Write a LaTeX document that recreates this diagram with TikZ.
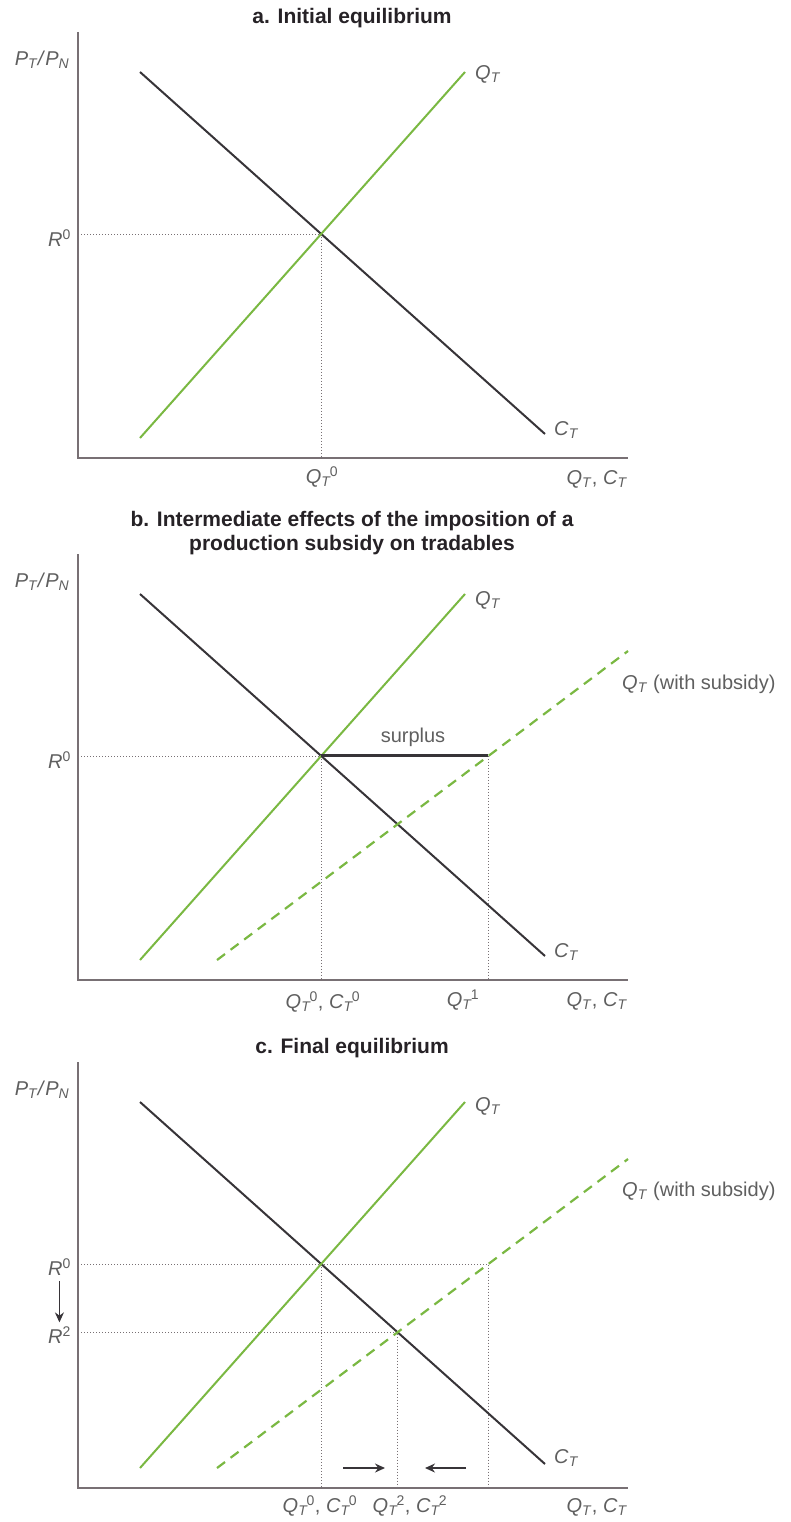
\documentclass[tikz,border=0pt]{standalone}
\usepackage{fontspec}
\setmainfont{Liberation Sans}
\usepackage{xcolor}
\usetikzlibrary{arrows.meta, positioning, calc}
\definecolor{supplygreen}{RGB}{122, 184, 66}
\definecolor{demandgray}{RGB}{55, 52, 56}
\definecolor{axisgray}{RGB}{120, 112, 116}
\definecolor{labelgray}{RGB}{95, 95, 95}
\definecolor{titlegray}{RGB}{38, 34, 38}

\newcommand{\vsub}[2]{\textit{#1}\textsubscript{\textit{#2}}}
\newcommand{\vsubsup}[3]{\textit{#1}\textsubscript{\textit{#2}}\kern-1.5pt\textsuperscript{#3}}

\begin{document}
\begin{tikzpicture}[
    x=1pt, y=-1pt,
    axis/.style={axisgray, line width=2pt},
    demand/.style={demandgray, line width=2pt},
    supply/.style={supplygreen, line width=2pt},
    subsidy/.style={supplygreen, line width=2.2pt, dash pattern=on 10pt off 7pt},
    guide/.style={axisgray, line width=0.8pt, dash pattern=on 1pt off 2pt},
    surplusline/.style={demandgray, line width=3pt},
    lbl/.style={labelgray, font=\fontsize{20}{22}\selectfont, inner sep=1pt},
    title/.style={titlegray, font=\fontsize{21}{23.5}\selectfont\bfseries, align=center},
    shiftarrow/.style={-{Stealth[length=10pt, width=9pt]}, demandgray, line width=1.3pt}
]
    \useasboundingbox (0,0) rectangle (790,1522);

    % a. initial equilibrium
    \begin{scope}
        \node[title] (a-title) at (352,18) {a. Initial equilibrium};
        \coordinate (a-o) at (78,458);
        \coordinate (a-top) at (78,32);
        \coordinate (a-right) at (628,458);
        \coordinate (a-c1) at (140,72);
        \coordinate (a-c2) at (545,434);
        \coordinate (a-q1) at (140,438);
        \coordinate (a-q2) at (465,72);
        \coordinate (a-e) at (intersection of a-c1--a-c2 and a-q1--a-q2);

        \draw[guide] (a-e -| a-o) -- (a-e) -- (a-e |- a-o);
        \draw[axis] (a-top) -- (a-o) -- (a-right);
        \draw[demand] (a-c1) -- (a-c2);
        \draw[supply] (a-q1) -- (a-q2);

        \node[lbl] (a-yl) at (42,60) {\vsub{P}{T}\textit{/}\vsub{P}{N}};
        \node[lbl, anchor=east] (a-r0) at (72,238) {\textit{R}\textsuperscript{0}};
        \node[lbl, anchor=west] (a-qt) at (474,74) {\vsub{Q}{T}};
        \node[lbl, anchor=west] (a-ct) at (553,430) {\vsub{C}{T}};
        \node[lbl] (a-q0) at (322,477) {\vsubsup{Q}{T}{0}};
        \node[lbl] (a-xl) at (597,479) {\vsub{Q}{T}, \vsub{C}{T}};
    \end{scope}

    % b. intermediate effects
    \begin{scope}[shift={(0,522)}]
        \node[title] (b-title) at (352,11) {b. Intermediate effects of the imposition of a\\production subsidy on tradables};
        \coordinate (b-o) at (78,458);
        \coordinate (b-top) at (78,32);
        \coordinate (b-right) at (628,458);
        \coordinate (b-c1) at (140,72);
        \coordinate (b-c2) at (545,434);
        \coordinate (b-q1) at (140,438);
        \coordinate (b-q2) at (465,72);
        \coordinate (b-s1) at (217,438);
        \coordinate (b-s2) at (628,129);
        \coordinate (b-e) at (intersection of b-c1--b-c2 and b-q1--b-q2);
        \coordinate (b-r) at ($(b-e)+(100,0)$);
        \coordinate (b-f) at (intersection of b-e--b-r and b-s1--b-s2);

        \draw[guide] (b-e -| b-o) -- (b-e) -- (b-e |- b-o);
        \draw[guide] (b-f) -- (b-f |- b-o);
        \draw[axis] (b-top) -- (b-o) -- (b-right);
        \draw[demand] (b-c1) -- (b-c2);
        \draw[supply] (b-q1) -- (b-q2);
        \draw[subsidy] (b-s1) -- (b-s2);
        \draw[surplusline] (b-e) -- (b-f);

        \node[lbl] (b-yl) at (42,60) {\vsub{P}{T}\textit{/}\vsub{P}{N}};
        \node[lbl, anchor=east] (b-r0) at (72,238) {\textit{R}\textsuperscript{0}};
        \node[lbl, anchor=west] (b-qt) at (474,78) {\vsub{Q}{T}};
        \node[lbl, anchor=west] (b-ct) at (553,430) {\vsub{C}{T}};
        \node[lbl, anchor=west] (b-qs) at (621,162) {\vsub{Q}{T} (with subsidy)};
        \node[lbl] (b-surplus) at (413,215) {surplus};
        \node[lbl] (b-q0) at (323,480) {\vsubsup{Q}{T}{0}, \vsubsup{C}{T}{0}};
        \node[lbl] (b-q1l) at (463,478) {\vsubsup{Q}{T}{1}};
        \node[lbl] (b-xl) at (597,479) {\vsub{Q}{T}, \vsub{C}{T}};
    \end{scope}

    % c. final equilibrium
    \begin{scope}[shift={(0,1030)}]
        \node[title] (c-title) at (352,18) {c. Final equilibrium};
        \coordinate (c-o) at (78,458);
        \coordinate (c-top) at (78,32);
        \coordinate (c-right) at (628,458);
        \coordinate (c-c1) at (140,72);
        \coordinate (c-c2) at (545,434);
        \coordinate (c-q1) at (140,438);
        \coordinate (c-q2) at (465,72);
        \coordinate (c-s1) at (217,438);
        \coordinate (c-s2) at (628,129);
        \coordinate (c-e) at (intersection of c-c1--c-c2 and c-q1--c-q2);
        \coordinate (c-r) at ($(c-e)+(100,0)$);
        \coordinate (c-f) at (intersection of c-e--c-r and c-s1--c-s2);
        \coordinate (c-g) at (intersection of c-c1--c-c2 and c-s1--c-s2);

        \draw[guide] (c-f -| c-o) -- (c-f) -- (c-f |- c-o);
        \draw[guide] (c-e) -- (c-e |- c-o);
        \draw[guide] (c-g -| c-o) -- (c-g) -- (c-g |- c-o);
        \draw[axis] (c-top) -- (c-o) -- (c-right);
        \draw[demand] (c-c1) -- (c-c2);
        \draw[supply] (c-q1) -- (c-q2);
        \draw[subsidy] (c-s1) -- (c-s2);

        \coordinate (c-a1) at (343,438);
        \coordinate (c-a2) at (385,438);
        \coordinate (c-a3) at (466,438);
        \coordinate (c-a4) at (425,438);
        \draw[shiftarrow] (c-a1) -- (c-a2);
        \draw[shiftarrow] (c-a3) -- (c-a4);

        \node[lbl] (c-yl) at (42,60) {\vsub{P}{T}\textit{/}\vsub{P}{N}};
        \node[lbl, anchor=east] (c-r0) at (72,237) {\textit{R}\textsuperscript{0}};
        \node[lbl, anchor=east] (c-r2) at ($(c-g -| c-o)+(-6,3)$) {\textit{R}\textsuperscript{2}};
        \draw[shiftarrow] ([yshift=-4pt]c-r0.south) -- ([yshift=3pt]c-r2.north);
        \node[lbl, anchor=west] (c-qt) at (474,76) {\vsub{Q}{T}};
        \node[lbl, anchor=west] (c-ct) at (553,428) {\vsub{C}{T}};
        \node[lbl, anchor=west] (c-qs) at (621,161) {\vsub{Q}{T} (with subsidy)};
        \node[lbl] (c-q0) at (320,476) {\vsubsup{Q}{T}{0}, \vsubsup{C}{T}{0}};
        \node[lbl] (c-q2l) at (410,476) {\vsubsup{Q}{T}{2}, \vsubsup{C}{T}{2}};
        \node[lbl] (c-xl) at (597,477) {\vsub{Q}{T}, \vsub{C}{T}};
    \end{scope}
\end{tikzpicture}
\end{document}
